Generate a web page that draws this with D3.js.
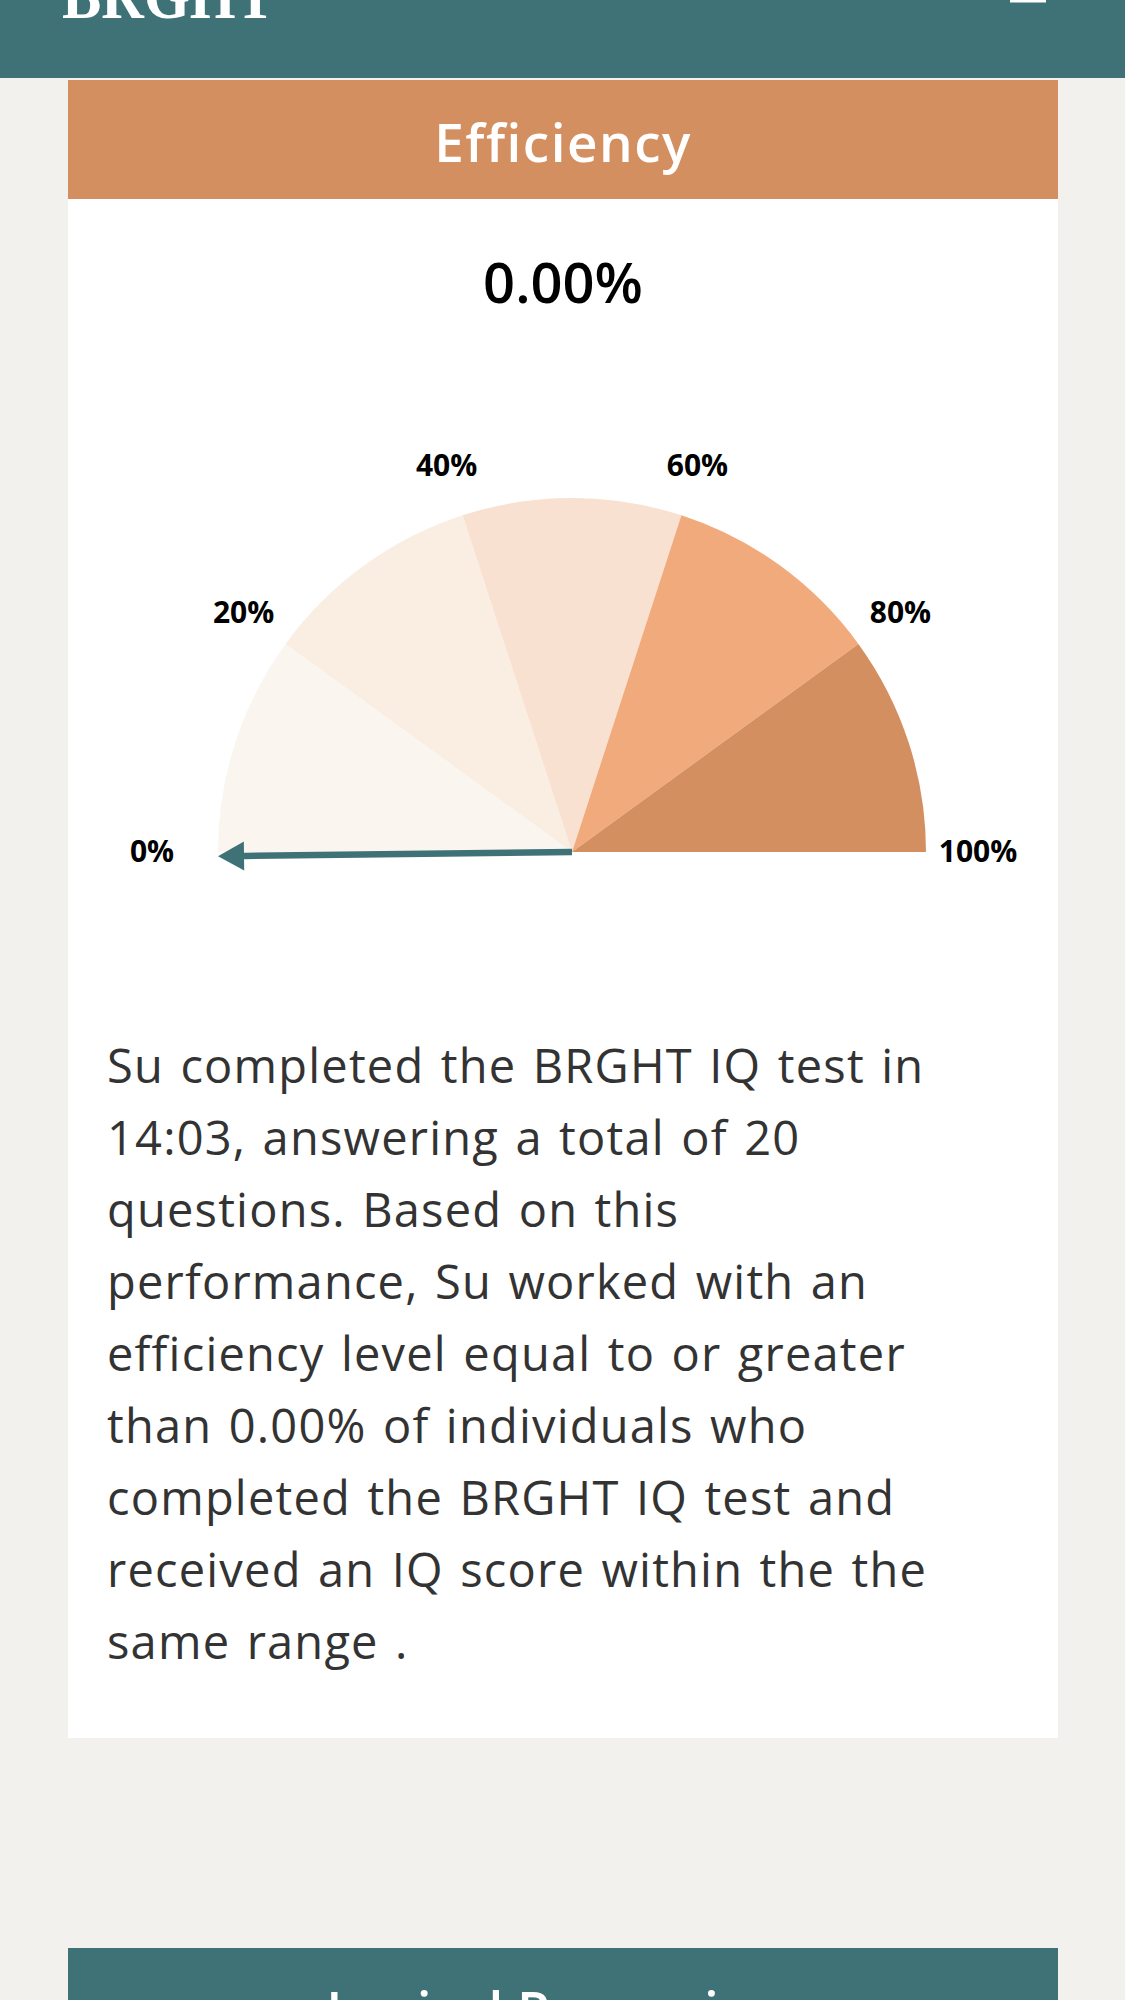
<!DOCTYPE html>
<html>
<head>
  <meta charset="utf-8">
  <script src="https://d3js.org/d3.v7.min.js"></script>
  <style>
    body { margin: 0; background: #f2f1ed; }
    svg { display: block; }
    text { font-family: "Open Sans", "DejaVu Sans", sans-serif; }
  </style>
</head>
<body>
<script>
  // gauge data
  var ticks = [0, 20, 40, 60, 80, 100];
  var bandColors = ["#faf5ef", "#faeee3", "#f8e1d0", "#f1aa7b", "#d38f5f"];
  var efficiency = 0.00;
  var title = "Efficiency";
  var nextTitle = "Logical Reasoning";
  var paragraph = [
    "Su completed the BRGHT IQ test in",
    "14:03, answering a total of 20",
    "questions. Based on this",
    "performance, Su worked with an",
    "efficiency level equal to or greater",
    "than 0.00% of individuals who",
    "completed the BRGHT IQ test and",
    "received an IQ score within the the",
    "same range ."
  ];

  var W = 1125, H = 2000;
  var teal = "#3e7277", orange = "#d38f5f";
  var cardX = 68, cardW = 990;

  var svg = d3.select("body").append("svg")
      .attr("width", W)
      .attr("height", H);

  svg.append("rect").attr("width", W).attr("height", H).attr("fill", "#f2f1ed");

  // top bar
  svg.append("rect").attr("width", W).attr("height", 78).attr("fill", teal);
  svg.append("text")
      .attr("x", 62).attr("y", 18)
      .attr("textLength", 213).attr("lengthAdjust", "spacingAndGlyphs")
      .style("font-family", "'Liberation Serif', serif")
      .style("font-weight", 700)
      .style("font-size", "66px")
      .attr("fill", "#fff")
      .text("BRGHT");
  svg.append("rect").attr("x", 1010).attr("y", 0).attr("width", 36).attr("height", 2.5).attr("fill", "#fff");

  // card
  svg.append("rect").attr("x", cardX).attr("y", 80).attr("width", cardW).attr("height", 1658).attr("fill", "#fff");
  svg.append("rect").attr("x", cardX).attr("y", 80).attr("width", cardW).attr("height", 119).attr("fill", orange);
  svg.append("text")
      .attr("x", cardX + cardW / 2).attr("y", 162)
      .attr("text-anchor", "middle")
      .style("font-size", "53px").style("font-weight", 600)
      .style("letter-spacing", "1.5px")
      .attr("fill", "#fff")
      .text(title);

  svg.append("text")
      .attr("x", cardX + cardW / 2).attr("y", 303)
      .attr("text-anchor", "middle")
      .style("font-size", "56px").style("font-weight", 600)
      .attr("fill", "#000")
      .text(d3.format(".2f")(efficiency) + "%");

  // gauge
  var cx = 572, cy = 852, r = 354;
  var angle = d3.scaleLinear().domain([0, 100]).range([-Math.PI / 2, Math.PI / 2]);
  var arc = d3.arc().innerRadius(0).outerRadius(r);
  var g = svg.append("g").attr("transform", "translate(" + cx + "," + cy + ")");

  var bands = d3.pairs(ticks);
  g.selectAll("path.band")
      .data(bands)
      .enter().append("path")
      .attr("class", "band")
      .attr("d", function (d) { return arc({ startAngle: angle(d[0]), endAngle: angle(d[1]) }); })
      .attr("fill", function (d, i) { return bandColors[i]; });

  var labelR = r + 52;
  g.selectAll("text.tick")
      .data(ticks)
      .enter().append("text")
      .attr("class", "tick")
      .attr("x", function (d) { return labelR * Math.sin(angle(d)) - (d === 0 ? 14 : 0); })
      .attr("y", function (d) { return -labelR * Math.cos(angle(d)) + 10; })
      .attr("text-anchor", "middle")
      .style("font-size", "30px").style("font-weight", 700)
      .attr("fill", "#000")
      .text(function (d) { return d + "%"; });

  // needle (drawn a little below horizontal like the original)
  var tilt = -0.012;
  var a = angle(efficiency) + tilt;
  var tipLen = r, headLen = 26, headHalf = 14.5;
  var ux = Math.sin(a), uy = -Math.cos(a);
  var bx = (tipLen - headLen) * ux, by = (tipLen - headLen) * uy;
  g.append("line")
      .attr("x1", 0).attr("y1", 0)
      .attr("x2", bx).attr("y2", by)
      .attr("stroke", teal).attr("stroke-width", 6.5);
  g.append("path")
      .attr("d", d3.line()([
        [tipLen * ux, tipLen * uy],
        [bx - headHalf * uy, by + headHalf * ux],
        [bx + headHalf * uy, by - headHalf * ux]
      ]) + "Z")
      .attr("fill", teal);

  // description
  svg.append("g").selectAll("text")
      .data(paragraph)
      .enter().append("text")
      .attr("x", 107)
      .attr("y", function (d, i) { return 1083 + i * 72; })
      .style("font-size", "47px")
      .style("letter-spacing", "1.2px")
      .style("word-spacing", "3px")
      .attr("fill", "#333")
      .text(function (d) { return d; });

  // next card peeking at the bottom
  svg.append("rect").attr("x", cardX).attr("y", 1948).attr("width", cardW).attr("height", 60).attr("fill", teal);
  svg.append("text")
      .attr("x", 554).attr("y", 2030)
      .attr("text-anchor", "middle")
      .style("font-size", "53px").style("font-weight", 600)
      .attr("fill", "#fff")
      .text(nextTitle);
</script>
</body>
</html>
